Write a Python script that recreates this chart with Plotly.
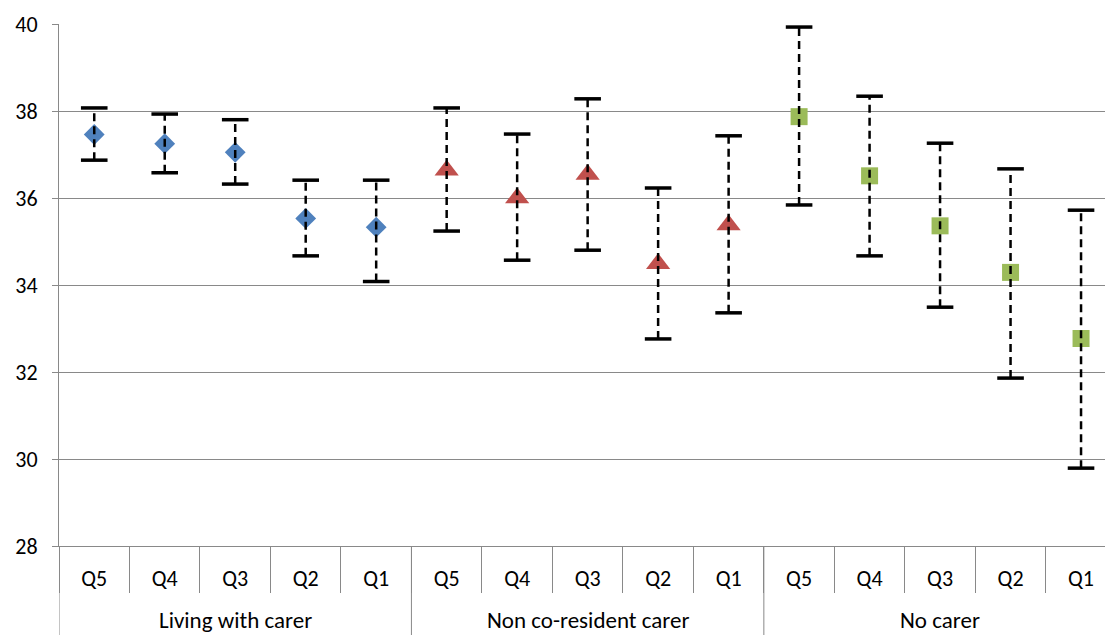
import plotly.graph_objects as go

groups = ["Living with carer", "Non co-resident carer", "No carer"]
quintiles = ["Q5", "Q4", "Q3", "Q2", "Q1"]

living_mean = [37.46, 37.25, 37.05, 35.53, 35.33]
living_low = [36.87, 36.58, 36.32, 34.67, 34.08]
living_high = [38.07, 37.93, 37.80, 36.41, 36.41]

nonres_mean = [36.64, 36.00, 36.54, 34.49, 35.38]
nonres_low = [35.24, 34.57, 34.80, 32.76, 33.36]
nonres_high = [38.07, 37.47, 38.28, 36.23, 37.43]

nocarer_mean = [37.87, 36.51, 35.36, 34.29, 32.77]
nocarer_low = [35.84, 34.67, 33.49, 31.86, 29.79]
nocarer_high = [39.93, 38.34, 37.26, 36.67, 35.72]

series = [
    (living_mean, living_low, living_high, "#4F81BD", "diamond", 16),
    (nonres_mean, nonres_low, nonres_high, "#C0504D", "triangle-up", 21),
    (nocarer_mean, nocarer_low, nocarer_high, "#9BBB59", "square", 17),
]

FONT = "Carlito, Calibri, Lato, 'Liberation Sans', Arial, sans-serif"
FS = 22
GRID = "#898989"
nq = len(quintiles)

fig = go.Figure()

# markers
for gi, (mean, low, high, color, sym, size) in enumerate(series):
    xs = [gi * nq + i for i in range(nq)]
    fig.add_trace(go.Scatter(
        x=xs, y=mean, mode="markers",
        marker=dict(symbol=sym, size=size, color=color, line=dict(width=0)),
        showlegend=False, hoverinfo="skip"))

# dashed error bars + caps (drawn on top of markers, as in the reference)
for gi, (mean, low, high, color, sym, size) in enumerate(series):
    xs = [gi * nq + i for i in range(nq)]
    lx, ly = [], []
    for x, lo, hi in zip(xs, low, high):
        lx += [x, x, None]
        ly += [lo, hi, None]
    fig.add_trace(go.Scatter(
        x=lx, y=ly, mode="lines",
        line=dict(color="black", width=2.5, dash="8px,5px"),
        showlegend=False, hoverinfo="skip"))
    fig.add_trace(go.Scatter(
        x=xs + xs, y=low + high, mode="markers",
        marker=dict(symbol="line-ew", size=19, line=dict(width=3.5, color="black")),
        showlegend=False, hoverinfo="skip"))

n_total = nq * len(groups)
PLOT_H = 635 - 24 - 89

# group dividers running to the bottom of the chart
shapes = []
for gi in range(len(groups) + 1):
    xb = gi * nq - 0.5
    shapes.append(dict(type="line", xref="x", yref="paper",
                       x0=xb, x1=xb, y0=0, y1=-89 / PLOT_H,
                       line=dict(color=GRID, width=1)))

annotations = []
for gi, g in enumerate(groups):
    annotations.append(dict(
        text=g, x=gi * nq + (nq - 1) / 2, xref="x",
        y=(546 - 620) / PLOT_H, yref="paper", yanchor="middle",
        showarrow=False, font=dict(family=FONT, size=23, color="black")))

fig.update_layout(
    width=1105, height=635,
    margin=dict(l=59, r=0, t=24, b=89, autoexpand=False),
    paper_bgcolor="white", plot_bgcolor="white",
    font=dict(family=FONT, size=FS, color="black"),
    shapes=shapes, annotations=annotations,
)
fig.update_xaxes(
    range=[-0.5, 14.34], automargin=False,
    tickmode="array", tickvals=list(range(n_total)),
    ticktext=quintiles * len(groups), ticks="",
    ticklabelstandoff=13,
    minor=dict(tickmode="array", tickvals=[i - 0.5 for i in range(n_total + 1)],
               ticks="outside", ticklen=46, tickcolor=GRID, tickwidth=1, showgrid=False),
    showline=True, linecolor=GRID, linewidth=1,
    showgrid=False, zeroline=False,
    tickfont=dict(family=FONT, size=FS, color="black"),
)
fig.update_yaxes(
    range=[28, 40], dtick=2, tick0=28, automargin=False,
    showgrid=True, gridcolor=GRID, gridwidth=1,
    showline=True, linecolor=GRID, linewidth=1,
    ticks="outside", ticklen=6, tickcolor=GRID,
    zeroline=False, tickfont=dict(family=FONT, size=FS, color="black"),
    ticklabelstandoff=10,
)

fig.write_html("out.html", config={"displayModeBar": False},
               post_script="document.body.style.margin='0';document.body.style.padding='0';")
